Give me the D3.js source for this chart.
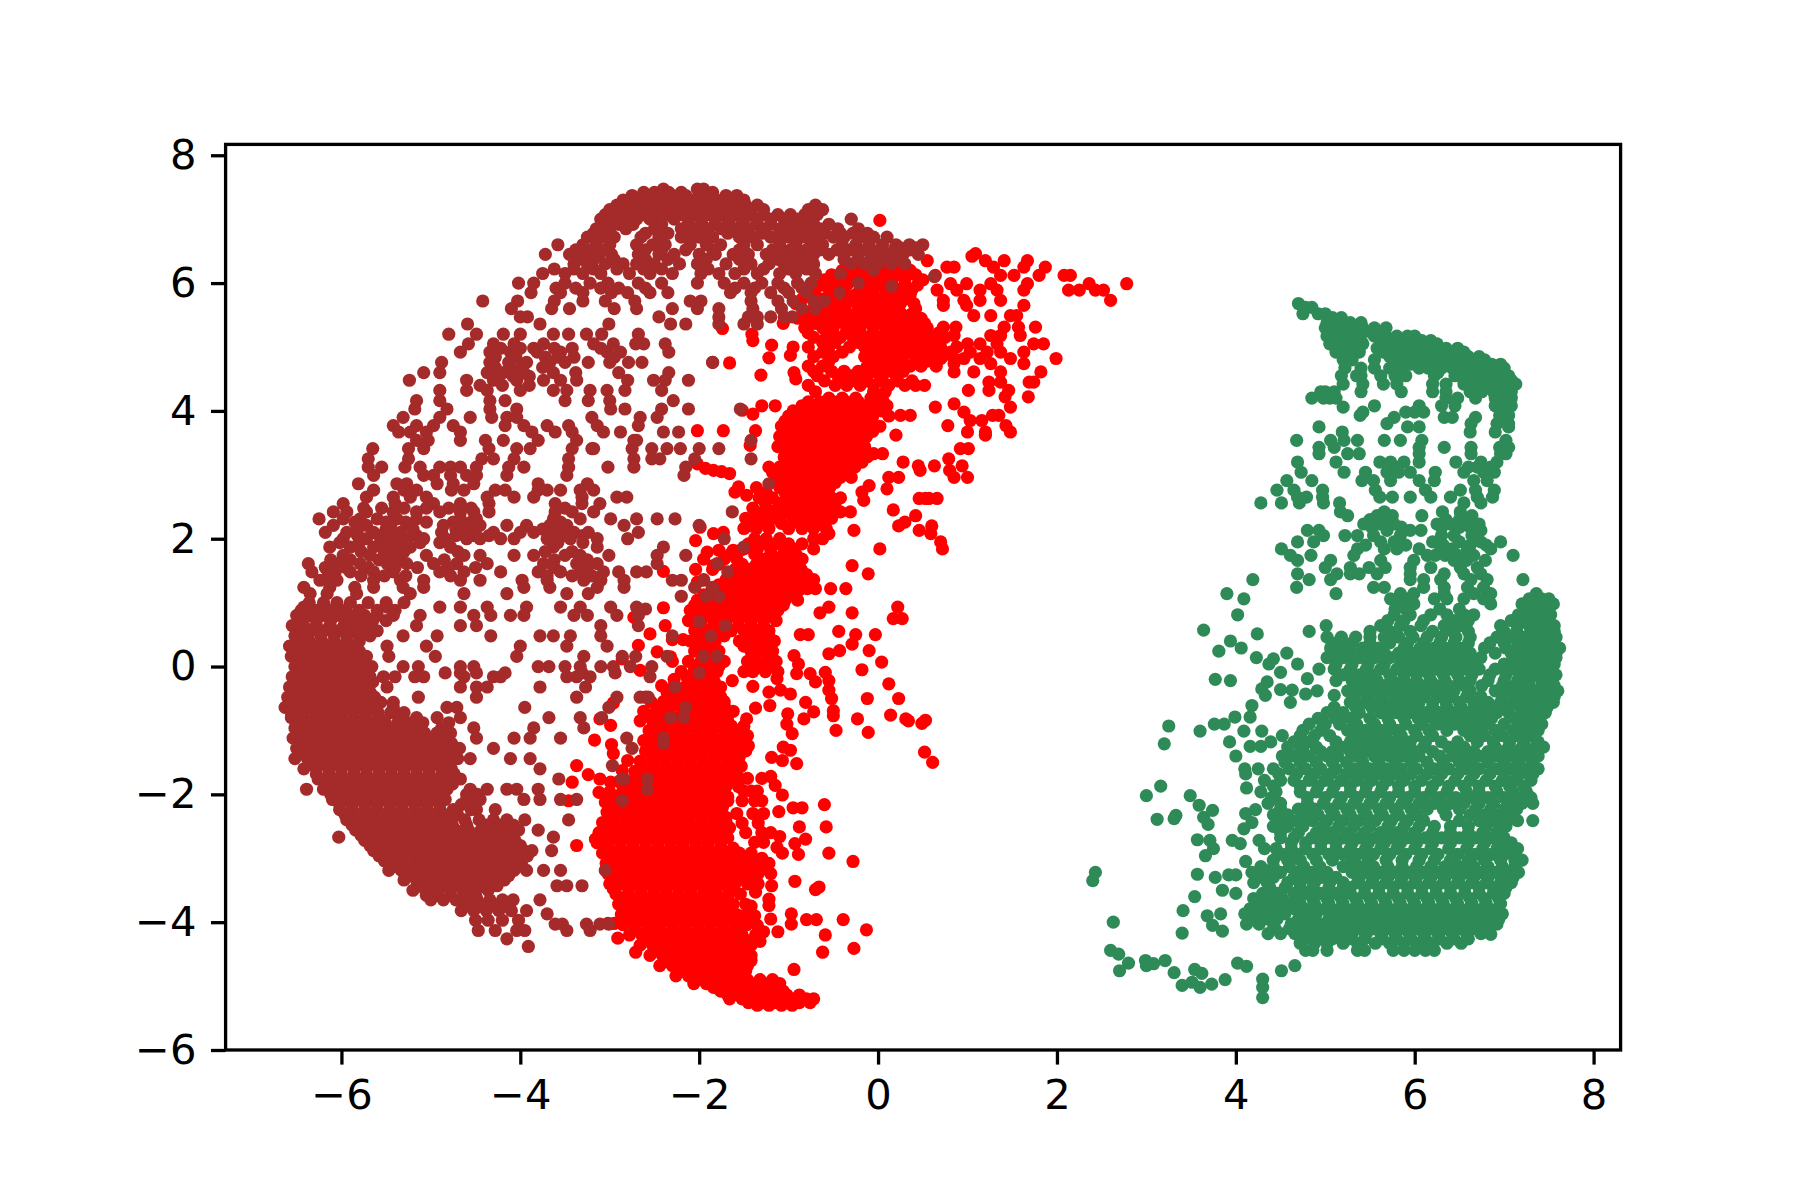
<!DOCTYPE html>
<html><head><meta charset="utf-8">
<script src="https://cdnjs.cloudflare.com/ajax/libs/d3/7.8.5/d3.min.js"></script>
<style>html,body{margin:0;padding:0;background:#fff}svg{display:block}</style>
</head><body><svg id="c" width="1800" height="1200"></svg>
<script>
const xTicks=[-6,-4,-2,0,2,4,6,8];
const yTicks=[-6,-4,-2,0,2,4,6,8];
// every row: y value, then the x values read at that height
const redRows=[
[6.98,0.02],[6.46,1.09],[6.42,1.05],[6.35,0.55,1.2,1.41,1.67],[6.25,0.77,0.85,1.29,1.63,1.87],[6.12,2.08,2.15,1.37,1.52,1.8,0.64],
[5.99,2.78,2.36,0.81,0.99,1.26,1.67],[5.89,2.13,2.25,2.52,2.43,0.66,0.88,1.14,1.33,1.63],[5.73,2.6,0.73,0.96,1.14,1.37],[5.65,1.63,0.99,0.73],
[5.49,1.07,1.26,1.48,1.55],[5.31,0.73,0.87,1.41,1.57,1.76],[5.18,0.85,1.26,1.37,1.59],[5.05,1,1.14,1.33,1.74,1.85],[4.92,0.81,1.03,1.22,1.37,1.63],
[4.82,1.99,0.7,0.85,0.96,1.14,1.48],[4.74,1.63,1.26,0.85],[4.61,1.82,1.07,1.37,0.85],[4.45,1.69,1.74,1.24,1.37],[4.32,1.01,1.46,1.24],[4.22,1.42,1.68],
[4.11,0.85],[4.06,0.64,1.48],[3.98,0.96],[3.93,1.28,1.35,0.36,0.25],[3.85,1.03,1.16],[3.77,0.78,1.43],[3.67,1,1.2,1.48],[3.62,0.2,1.2],[3.41,1.01,0.92],
[3.33,0.05,-0.05],[3.25,0.79],[3.2,0.28],[3.14,0.45,0.63,0.94],[3.07,0.8,0.47],[2.96,0.85,1,0.23,0.12],[2.83,-0.1],[2.78,0.1],[2.73,-0.18],
[2.63,0.46,0.53,0.66,0.57],[2.6,-0.16],[2.45,0.17],[2.42,-0.42,-0.31],[2.36,0.42],[2.26,0.3],[2.2,0.23,0.6],[2.13,-0.27,0.46],[2.08,-0.55,0.59],[1.95,0.7],
[1.84,0.72,0.02],[1.58,-0.29],[1.45,-0.11],[1.22,-0.79,-0.7,-0.53,-0.36],
[5.29,-1.74],[5.2,-1.41],[5.1,-1.4],[4.75,-1.66],[5.37,-1.06],[5.03,-1.19],[4.83,-1.22],[4.56,-1.31],[4.87,-0.98],[4.6,-0.94],[4.5,-0.92],[4.01,-1.52],[3.95,-1.4],
[3.69,-2.02,-1.73,-1.37],[3.46,-1.43],[3.17,-2.02],[3.1,-1.93],[3.07,-1.84],[3.05,-1.75],[3.02,-1.66],[2.81,-1.56],[2.68,-1.47],[2.73,-1.6],
// upper blob
[6.2,-0.4,-0.25,-0.1,0.05,0.2,0.36],
[6.05,-0.6,-0.45,-0.3,-0.15,0,0.15,0.3,0.5],
[5.9,-0.7,-0.55,-0.42,-0.2,-0.05,0.08,0.22,0.38],
[5.75,-0.85,-0.62,-0.48,-0.3,-0.12,0.02,0.18,0.3],
[5.6,-0.72,-0.58,-0.4,-0.22,-0.08,0.08,0.22,0.42],
[5.45,-0.9,-0.78,-0.6,-0.45,-0.28,-0.12,0.02,0.18,0.32,0.48],
[5.3,-0.82,-0.62,-0.5,-0.3,-0.2,-0.05,0.1,0.28,0.45,0.55],
[5.15,-0.72,-0.58,-0.42,-0.28,-0.12,0,0.15,0.3,0.42,0.6,0.75],
[5.0,-0.95,-0.78,-0.55,-0.32,-0.15,-0.02,0.12,0.25,0.4,0.55,0.7,0.88],
[4.85,-0.72,-0.5,-0.15,0,0.12,0.28,0.44,0.58,0.72],
[4.7,-0.78,-0.62,-0.12,0.02,0.18,0.36,0.48,0.65],
[4.55,-0.68,-0.45,-0.3,-0.15,0.02,0.2],
[4.4,-0.78,-0.48,-0.35,-0.2,-0.05,0.12,0.3,0.42,0.52],
[4.3,-0.7,-0.05,0.08],
// middle blob
[4.2,-0.55,-0.4,-0.25,-0.08,0.04],
[4.08,-0.85,-0.72,-0.58,-0.44,-0.3,-0.16,-0.02,0.1,-1.15,-1.3],
[3.92,-1,-0.88,-0.74,-0.6,-0.46,-0.32,-0.18,-0.06,0.12],
[3.76,-1.08,-0.95,-0.81,-0.67,-0.53,-0.39,-0.25,-0.11,0.02],
[3.6,-1.1,-0.97,-0.83,-0.69,-0.55,-0.41,-0.27,-0.13],
[3.44,-1.12,-0.98,-0.84,-0.7,-0.56,-0.42,-0.28,-0.15],
[3.28,-1.05,-0.91,-0.77,-0.63,-0.49,-0.35,-0.21,-0.12],
[3.12,-1.22,-1.1,-0.96,-0.82,-0.68,-0.54,-0.4,-0.26],
[2.96,-1.12,-0.98,-0.84,-0.7,-0.56,-0.42,-0.3],
[2.8,-1.36,-1.1,-0.96,-0.82,-0.68,-0.54],
[2.64,-1.33,-1.18,-1.02,-0.8,-0.66,-0.52,-0.42],
[2.48,-1.4,-1.25,-1.12,-0.96,-0.82,-0.68,-0.54],
[2.32,-1.48,-1.32,-1.15,-0.95,-0.8,-0.66,-0.52],
[2.16,-1.5,-1.36,-1.22,-1,-0.85,-0.72,-0.58],
[2.0,-1.38,-1.25,-1.1,-0.72,-0.62],
[1.84,-1.5,-1.35,-1.2,-1.05,-0.95,-0.72],
[1.68,-1.95,-1.72,-1.58,-1.3,-1.12,-0.98,-0.85],
[1.52,-2.04,-1.85,-1.6,-1.44,-1.28,-1.14,-1,-0.86],
[1.36,-1.95,-1.7,-1.56,-1.42,-1.28,-1.14,-1,-0.86,-0.72],
[1.2,-1.86,-1.72,-1.58,-1.44,-1.3,-1.16,-1.02,-0.88],
[1.04,-2.02,-1.88,-1.74,-1.6,-1.46,-1.32,-1.18,-1.04,-0.9],
[0.88,-2.1,-1.96,-1.82,-1.68,-1.54,-1.4,-1.26,-1.12],
[0.72,-2.12,-1.98,-1.84,-1.7,-1.56,-1.42,-1.28,-1.14],
[0.56,-2.05,-1.92,-1.78,-1.64,-1.5,-1.36,-1.22],
[0.4,-2.1,-1.96,-1.82,-1.55,-1.42,-1.28,-1.16],
[0.24,-2.05,-1.92,-1.78,-1.42,-1.3,-1.18],
[0.08,-2.3,-2.12,-1.98,-1.84,-1.72,-1.46,-1.36,-1.24,-1.14],
[-0.08,-2.2,-2.06,-1.92,-1.8,-1.5,-1.4,-1.26,-1.12],
[-0.24,-2.1,-1.96,-1.83],
[-0.4,-2.36,-2.22,-2.08,-1.94,-1.8],
[-0.55,-2.54,-2.4,-2.26,-2.1,-1.96,-1.82,-1.72],
[-0.7,-2.62,-2.48,-2.34,-2.18,-2.02,-1.88,-1.74,-1.62],
[-0.85,-2.66,-2.52,-2.38,-2.24,-2.1,-1.96,-1.82,-1.68],
// lower crescent
[-1.0,-2.56,-2.42,-2.28,-2.14,-2,-1.86,-1.72,-1.58],
[-1.16,-2.62,-2.48,-2.34,-2.2,-2.06,-1.92,-1.78,-1.64,-1.52],
[-1.32,-2.6,-2.46,-2.32,-2.18,-2.04,-1.9,-1.76,-1.62,-1.48],
[-1.48,-2.66,-2.52,-2.38,-2.24,-2.1,-1.96,-1.82,-1.68,-1.56],
[-1.64,-2.72,-2.58,-2.44,-2.3,-2.16,-2.02,-1.88,-1.74,-1.6],
[-1.8,-2.9,-2.76,-2.62,-2.48,-2.34,-2.2,-2.06,-1.92,-1.78,-1.66],
[-1.96,-3,-2.86,-2.72,-2.58,-2.44,-2.3,-2.16,-2.02,-1.88,-1.74],
[-2.12,-3.05,-2.92,-2.78,-2.64,-2.5,-2.36,-2.22,-2.08,-1.94,-1.82],
[-2.28,-3.03,-2.89,-2.75,-2.61,-2.47,-2.33,-2.19,-2.05,-1.91,-1.77],
[-2.44,-3.08,-2.95,-2.81,-2.67,-2.53,-2.39,-2.25,-2.11,-1.97,-1.83,-1.7],
[-2.6,-3.12,-2.98,-2.84,-2.7,-2.56,-2.42,-2.28,-2.14,-2,-1.86,-1.72],
[-2.76,-3.14,-3.02,-2.88,-2.74,-2.6,-2.46,-2.32,-2.18,-2.04,-1.9,-1.76],
[-2.92,-3.08,-2.95,-2.81,-2.67,-2.53,-2.39,-2.25,-2.11,-1.97,-1.83,-1.69,-1.55,-1.42],
[-3.08,-3.04,-2.9,-2.76,-2.62,-2.48,-2.34,-2.2,-2.06,-1.92,-1.78,-1.64,-1.5,-1.36,-1.22],
[-3.24,-3.02,-2.88,-2.74,-2.6,-2.46,-2.32,-2.18,-2.04,-1.9,-1.76,-1.62,-1.48,-1.34,-1.2],
[-3.4,-3,-2.86,-2.72,-2.58,-2.44,-2.3,-2.16,-2.02,-1.88,-1.74,-1.6,-1.46,-1.34],
[-3.56,-2.93,-2.79,-2.65,-2.51,-2.37,-2.23,-2.09,-1.95,-1.81,-1.67,-1.54],
[-3.72,-2.9,-2.76,-2.62,-2.48,-2.34,-2.2,-2.06,-1.92,-1.78,-1.62,-1.48],
[-3.88,-2.87,-2.73,-2.59,-2.45,-2.31,-2.17,-2.03,-1.89,-1.75,-1.58,-1.45],
[-4.04,-2.85,-2.71,-2.57,-2.43,-2.29,-2.15,-2.01,-1.87,-1.73,-1.59,-1.47],
[-4.2,-2.78,-2.64,-2.5,-2.36,-2.22,-2.08,-1.94,-1.8,-1.66,-1.52],
[-4.36,-2.66,-2.52,-2.38,-2.24,-2.1,-1.96,-1.82,-1.68,-1.54,-1.42],
[-4.52,-2.55,-2.41,-2.27,-2.13,-1.99,-1.85,-1.71,-1.57,-1.42],
[-4.68,-2.44,-2.3,-2.16,-2.02,-1.88,-1.74,-1.6,-1.46],
[-4.84,-2.26,-2.12,-1.98,-1.84,-1.7,-1.56],
[-4.96,-2.06,-1.92,-1.78,-1.64,-1.5,-1.36,-1.22,-1.1],
[-5.08,-1.76,-1.62,-1.48,-1.34,-1.2,-1.06],
[-5.2,-1.66,-1.52,-1.38,-1.24,-1.1,-0.94,-0.8,-0.72],
[-5.3,-1.35,-1.22,-1.08,-0.96],
// right of the crescent
[0.93,0.22,-0.55],[0.75,0.17,0.27],[0.84,-0.29,-0.65],[0.55,-0.44],[0.5,-0.03,-0.87,-0.78,-0.25],[0.35,-0.29],[0.25,-0.1,-0.43],[0.2,-0.55],[0.17,-0.94],
[0.07,0.04],[0.04,-0.89],[-0.05,-0.18],[-0.11,-0.91,-0.76],[-0.24,-0.7],[-0.09,-0.59],[-0.22,-0.55],[-0.27,0.12],[-0.37,-0.55],[-0.5,-0.52,-0.12,0.23],
[-0.69,-0.5],[-0.77,-0.5],[-0.76,0.14],[-0.82,-0.23,0.31,-0.83,-1.47],[-0.85,0.34],[-0.89,0.49],[-0.84,0.53],[-1,-0.47],[-1.03,-0.11],[-1.34,0.52],[-1.5,0.61],
[-0.56,-0.81],[-0.71,-0.72],[-0.74,-1.01],[-0.9,-1.02],[-1.05,-0.96],[-0.65,-1.37],[-0.61,-1.21],[-0.4,-1.22],[-0.31,-1.4],[-0.22,-1.63],[-0.19,-1.13],[-0.43,-0.98],[-0.37,-1.09],
[-1.26,-1.06],[-1.42,-1.19],[-1.47,-1.07],[-1.31,-0.98],[-1.52,-0.91],[-1.72,-1.2],[-1.86,-1.15],[-2.01,-1.07],[-2.16,-0.6],[-2.21,-0.95,-0.85],[-2.27,-1.11],
[-2.51,-0.58,-0.88],[-2.7,-0.81],[-2.77,-0.93],[-2.94,-0.89],[-2.66,-1.1],[-2.83,-1.13],[-2.92,-1.07,-0.55],[-3.05,-0.28],[-3.36,-0.93],[-3.49,-0.7],[-3.45,-0.66],
[-3.43,-1.19],[-3.53,-1.37],[-3.64,-1.22],[-3.74,-1.22],[-3.95,-1.2],[-3.87,-0.97],[-4.03,-0.97],[-3.96,-0.8,-0.69,-0.39],[-4.12,-0.13],[-4.2,-0.59,-1.37],[-4.15,-1.12,-1.28],
[-4.47,-0.62],[-4.41,-0.27],[-4.74,-0.94],
[-1.75,-1.46,-1.3],[-1.95,-1.5,-1.35,-1.42],[-2.1,-1.68,-1.52,-1.38,-1.3],[-2.3,-1.58,-1.4,-1.28],[-2.45,-1.52,-1.34],[-2.6,-1.48,-1.3,-1.2],[-2.75,-1.38,-1.28],
[-3.75,-1.42],[-3.9,-1.5,-1.38],[-4.05,-1.35],[-4.3,-1.32],
[-0.82,-3.11],[-0.92,-2.99],[-0.57,-2.96],[-1.15,-3.17],[-1.22,-2.98],[-1.36,-2.96],[-1.55,-3.37],[-1.69,-3.24],[-1.76,-3.11],[-1.81,-3.42,-2.99],[-2.1,-3.46],[-1.97,-3.12],
[0.12,-2.86],[-1.47,-2.8],[-1.63,-2.86],[-2.8,-3.37],[-2.7,-3.16],[-4.25,-2.91],[-4.47,-2.71],[-4.02,-3.02,-2.95],
[0.92,-2.4],[0.64,-2.38],[0.51,-2.55],[0.33,-2.68],[0.23,-2.47],[-0.06,-2.66],[0.77,-2.73],[0.42,-2.3,-2.18],[0.15,-2.32],
[2.18,-1.99],[1.97,-2.04],[1.79,-1.91],[1.49,-2.4],[2.08,-1.84],[2.1,-1.73],[1.82,-1.54,-1.62,-1.78],[1.58,-1.84],[1.32,-2.02],[2.2,-1.42],[2.35,-1.35],
[-0.3,-2.42,-2.28],[-0.48,-2.6],[-0.2,-2.28],
// thickening of the solid red parts
[6.13,-0.52,-0.36,-0.2,-0.06,0.1,0.24,0.42],[5.97,-0.64,-0.5,-0.35,-0.1,0.03,0.16,0.3,0.44],[5.82,-0.78,-0.52,-0.36,-0.25,-0.08,0.1,0.24,0.36],
[5.68,-0.92,-0.68,-0.52,-0.35,-0.17,-0.02,0.12,0.25,0.4],[5.52,-0.84,-0.66,-0.5,-0.34,-0.17,-0.04,0.12,0.26,0.38],[5.37,-0.7,-0.55,-0.38,-0.25,-0.08,0.06,0.22,0.38,0.52],
[5.22,-0.78,-0.52,-0.36,-0.2,-0.06,0.08,0.22,0.36,0.5,0.68],[5.07,-0.62,-0.48,-0.22,-0.08,0.06,0.18,0.34,0.5,0.64],[4.92,-0.62,-0.4,-0.08,0.06,0.2,0.36,0.5,0.65],
[4.78,-0.55,-0.05,0.1,0.25,0.42,0.55],[4.62,-0.72,-0.52,-0.38,-0.22,-0.05,0.1,0.28],[4.47,-0.6,-0.4,-0.25,-0.12,0.05,0.22,0.38],
[4.14,-0.78,-0.65,-0.5,-0.36,-0.22,-0.08,0.06],[4,-0.95,-0.8,-0.66,-0.52,-0.38,-0.24,-0.1,0.04],[3.84,-1.04,-0.92,-0.78,-0.64,-0.5,-0.36,-0.22,-0.08],
[3.68,-1.04,-0.9,-0.76,-0.62,-0.48,-0.34,-0.2,-0.06],[3.52,-1.06,-0.92,-0.78,-0.64,-0.5,-0.36,-0.22],[3.36,-1.02,-0.88,-0.74,-0.6,-0.46,-0.32,-0.18],
[3.2,-1,-0.86,-0.72,-0.58,-0.44,-0.3,-0.18],[3.04,-1.18,-1.04,-0.9,-0.76,-0.62,-0.48,-0.36],[2.88,-1.04,-0.9,-0.76,-0.62,-0.48],[2.72,-1.25,-1.04,-0.9,-0.74,-0.6],
[2.56,-1.26,-1.08,-0.9,-0.74,-0.6,-0.48],[2.4,-1.33,-1.2,-1.04,-0.88,-0.74,-0.6],[2.24,-1.42,-1.26,-1.08,-0.88,-0.74,-0.6],[1.92,-1.45,-1.3,-1.15,-1,-0.85],
[1.76,-1.65,-1.38,-1.2,-1.06,-0.92],[1.6,-1.78,-1.52,-1.36,-1.2,-1.06,-0.92],[1.44,-1.66,-1.5,-1.36,-1.22,-1.08,-0.94,-0.8],[1.28,-1.78,-1.64,-1.5,-1.36,-1.22,-1.08,-0.94,-0.82],
[1.12,-1.95,-1.8,-1.66,-1.52,-1.38,-1.24,-1.1,-0.96],[0.96,-2.05,-1.9,-1.76,-1.62,-1.48,-1.34,-1.2,-1.06],[0.8,-2.04,-1.9,-1.76,-1.62,-1.48,-1.34,-1.2],[0.64,-1.98,-1.84,-1.7,-1.56,-1.42,-1.28],
[0.48,-2.02,-1.88,-1.72,-1.46,-1.34,-1.22],[0.32,-1.98,-1.86,-1.5,-1.36,-1.24],[0,-2.05,-1.9,-1.78,-1.42,-1.3,-1.18],[-0.16,-2.14,-2,-1.86],[-0.32,-2.16,-2.02,-1.88,-1.76],
[-0.47,-2.3,-2.16,-2.02,-1.88,-1.76],[-0.62,-2.44,-2.3,-2.14,-2,-1.86,-1.72],[-0.78,-2.56,-2.42,-2.3,-2.14,-2,-1.86,-1.72],[-0.93,-2.48,-2.34,-2.2,-2.06,-1.92,-1.78,-1.64,-1.5],
[-1.08,-2.55,-2.41,-2.27,-2.13,-1.99,-1.85,-1.71,-1.57,-1.46],[-1.24,-2.53,-2.39,-2.25,-2.11,-1.97,-1.83,-1.69,-1.55,-1.45],[-1.4,-2.53,-2.39,-2.25,-2.11,-1.97,-1.83,-1.69,-1.55],
[-1.56,-2.65,-2.51,-2.37,-2.23,-2.09,-1.95,-1.81,-1.67,-1.53],[-1.72,-2.69,-2.55,-2.41,-2.27,-2.13,-1.99,-1.85,-1.71,-1.57],[-1.88,-2.82,-2.68,-2.54,-2.4,-2.26,-2.12,-1.98,-1.84,-1.7,-1.56],
[-2.04,-2.93,-2.79,-2.65,-2.51,-2.37,-2.23,-2.09,-1.95,-1.81,-1.68],[-2.2,-2.98,-2.84,-2.7,-2.56,-2.42,-2.28,-2.14,-2,-1.86,-1.74],[-2.36,-2.96,-2.82,-2.68,-2.54,-2.4,-2.26,-2.12,-1.98,-1.84,-1.7],
[-2.52,-3.04,-2.9,-2.76,-2.62,-2.48,-2.34,-2.2,-2.06,-1.92,-1.78,-1.66],[-2.68,-3.05,-2.91,-2.77,-2.63,-2.49,-2.35,-2.21,-2.07,-1.93,-1.79,-1.68],[-2.84,-3.02,-2.88,-2.74,-2.6,-2.46,-2.32,-2.18,-2.04,-1.9,-1.76,-1.62],
[-3,-3,-2.86,-2.72,-2.58,-2.44,-2.3,-2.16,-2.02,-1.88,-1.74,-1.58,-1.44,-1.3],[-3.16,-2.96,-2.82,-2.68,-2.54,-2.4,-2.26,-2.12,-1.98,-1.84,-1.7,-1.55,-1.42,-1.28],[-3.32,-2.94,-2.8,-2.66,-2.52,-2.38,-2.24,-2.1,-1.96,-1.82,-1.68,-1.54,-1.4],
[-3.48,-2.96,-2.79,-2.65,-2.51,-2.37,-2.23,-2.09,-1.95,-1.81,-1.67],[-3.64,-2.86,-2.72,-2.58,-2.44,-2.3,-2.16,-2.02,-1.88,-1.74],[-3.8,-2.83,-2.69,-2.55,-2.41,-2.27,-2.13,-1.99,-1.85,-1.7],
[-3.96,-2.8,-2.66,-2.52,-2.38,-2.24,-2.1,-1.96,-1.82,-1.66,-1.52],[-4.12,-2.72,-2.58,-2.44,-2.3,-2.16,-2.02,-1.88,-1.74,-1.6],[-4.28,-2.6,-2.46,-2.32,-2.18,-2.04,-1.9,-1.76,-1.62,-1.48],
[-4.44,-2.48,-2.34,-2.2,-2.06,-1.92,-1.78,-1.64,-1.5],[-4.6,-2.37,-2.23,-2.09,-1.95,-1.81,-1.67,-1.53,-1.42],[-4.76,-2.18,-2.04,-1.9,-1.76,-1.62,-1.48],[-4.9,-2.02,-1.88,-1.74,-1.6,-1.46,-1.32,-1.18],
[-5.02,-1.84,-1.7,-1.56,-1.42,-1.28,-1.14],[-5.14,-1.68,-1.56,-1.44,-1.3,-1.16,-1.02,-0.88],[-5.26,-1.45,-1.3,-1.16,-1.02,-0.88,-0.76]
];
const brownRows=[
// top band
[7.47,-2.4,-2.02,-1.95],[7.42,-2.62,-2.5,-2.34,-2.2,-1.85],
[7.37,-2.75,-2.6,-2.45,-2.3,-2.15,-2,-1.85,-1.7,-1.58],
[7.3,-2.85,-2.7,-2.55,-2.4,-2.25,-2.1,-1.95,-1.8,-1.65,-1.5],
[7.22,-2.92,-2.8,-2.66,-2.52,-2.38,-2.22,-2.08,-1.92,-1.78,-1.62,-1.48,-1.35,-0.7],
[7.15,-3,-2.88,-2.74,-2.6,-2.45,-2.3,-2.15,-2,-1.85,-1.7,-1.55,-1.42,-1.28,-0.78,-0.62],
[7.07,-3.05,-2.92,-2.78,-2.62,-2.48,-2.35,-2.2,-2.05,-1.9,-1.74,-1.58,-1.42,-1.28,-1.12,-0.98,-0.82,-0.68],
[7.0,-3.1,-2.98,-2.85,-2.7,-2.55,-2.28,-2.12,-1.98,-1.82,-1.66,-1.5,-1.35,-1.2,-1.05,-0.9,-0.75,-0.3],
[6.92,-3.08,-2.9,-2.74,-2.42,-2.12,-1.97,-1.82,-1.68,-1.52,-1.36,-1.2,-1.02,-0.88,-0.72,-0.55],
[6.85,-3.15,-3,-2.82,-2.5,-2.2,-2.05,-1.9,-1.75,-1.6,-1.45,-1.28,-1.1,-0.95,-0.8,-0.65,-0.45,-0.22],
[6.78,-3.18,-3.02,-2.6,-2.35,-2.1,-1.92,-1.68,-1.48,-1.3,-1.1,-0.92,-0.78,-0.6,-0.42,-0.28,-0.12],
[6.72,-3.25,-3.1,-2.95,-2.65,-2.45,-2.2,-2,-1.85,-1.55,-1.4,-1.2,-1,-0.85,-0.7,-0.5,-0.38,-0.2,-0.05,0.1],
[6.6,-3.58,-3.3,-3.15,-3,-2.7,-2.52,-2.38,-2.1,-1.92,-1.76,-1.5,-1.35,-1.1,-0.92,-0.75,-0.62,-0.4,-0.25,-0.1,0.05,0.2,0.35,0.5],
[6.52,-3.38,-3.2,-3.05,-2.6,-2.42,-2.15,-1.85,-1.55,-1.18,-0.98,-0.8,-0.65,-0.46,-0.3,-0.14,0.02,0.18,0.36],
[6.45,-3.72,-3.45,-3.28,-3.12,-2.98,-2.68,-2.45,-2.28,-2,-1.82,-1.62,-1.45,-1.25,-1.05,-0.88,-0.72,-0.55,-0.38,-0.22,-0.05,0.12,0.28,0.45],
[6.37,-3.35,-3.18,-2.95,-2.6,-2.35,-1.92,-1.55,-1.12,-0.98,-0.8,-0.38,-0.22,-0.08,0.08,0.22],
[6.3,-3.4,-3.25,-3.05,-2.85,-2.7,-2.5,-2.22,-2.02,-1.7,-1.42,-1.22,-1.05,-0.9,-0.72,-0.3,-0.15,0,0.15,0.3],
[6.22,-3.62,-3.4,-3.18,-2.92,-2.62,-2.42,-1.9,-1.5,-1.28,-1,-0.8],
[6.15,-3.75,-3.5,-3.3,-3.1,-2.78,-2.55,-2.3,-1.98,-1.78,-1.6,-1.35,-1.1,-0.92,-0.7,-0.42],
[6,-4.02,-3.85,-3.5,-3.22,-3.02,-2.68,-2.42,-2.02,-1.72,-1.5,-1.3,-1.12,-0.9,-0.75,-0.22],
[5.92,-3.6,-3.38,-3.1,-2.9,-2.6,-1.6,-1.38,-1.05,-0.85],
[5.85,-3.88,-3.55,-3.3,-2.98,-2.8,-2.55,-2.35,-1.65,-1.42,-1.2,-1,-0.8,-0.43],
[5.72,-4.42,-4.03,-3.62,-3.3,-3.05,-2.72,-2.1,-1.98,-1.42,-1.12,-0.95,-0.6],
[5.6,-4.1,-3.65,-3.45,-2.95,-2.7,-2.3,-2.02,-1.78,-1.4,-1.08,-0.85,-0.7],
[5.47,-4,-3.92,-2.45,-1.78,-1.45,-1.35,-1.2,-1.05,-0.96],
[5.36,-4.59,-3.78,-3.01,-2.32,-2.15,-1.78,-1.5,-1.35],
[5.2,-4.8,-4.49,-4.19,-4,-3.63,-3.46,-3.26,-3.09,-2.68],
[5.05,-4.58,-4.3,-4.07,-3.74,-3.18,-2.96,-2.71,-2.62,-2.38],
[4.98,-4.22,-4,-3.85,-3.62,-3.42,-3.1],[4.92,-4.67,-4.34,-4.11,-3.81,-3.55,-3.03,-2.88,-2.34],[4.84,-4.28,-4.05,-3.72,-3.58,-3.4,-2.95],
[4.76,-4.88,-4.34,-4.13,-3.93,-3.67,-3.5,-3.24,-3,-2.79,-2.64,-1.85,-1.85],[4.68,-4.28,-4.1,-3.98,-3.75],
[4.6,-5.08,-4.9,-4.37,-4.19,-3.96,-3.63,-3.38,-2.9,-2.34],[4.54,-4.24,-4.08,-3.9],
[4.48,-5.24,-4.6,-4.3,-4.04,-3.74,-3.55,-3.37,-2.8,-2.51,-2.38,-2.12],[4.4,-4.2,-4.45,-3.9],
[4.32,-4.9,-4.6,-4.37,-4,-3.63,-3.48,-3.22,-3.03,-2.83,-2.42],
[4.16,-5.16,-4.9,-4.34,-4.17,-3.5,-3.24,-3,-2.29],
[4.03,-5.18,-4.82,-4.34,-4.04,-2.99,-2.83,-2.42,-2.12,-1.54],
[3.9,-5.31,-4.9,-4.56,-4.32,-4.15,-4.04,-3.2,-2.66,-2.47],
[3.77,-5.42,-5.16,-4.97,-4.75,-4.17,-3.96,-3.7,-3.46,-3.14,-2.68],
[3.67,-5.36,-5.23,-5.05,-4.67,-3.87,-3.61,-3.42,-3.07,-2.88,-2.4,-2.23],
[3.54,-5.16,-5.03,-4.67,-4.39,-4.19,-3.8,-3.37,-2.73,-2.7,-1.42],
[3.41,-5.65,-5.25,-5.08,-4.35,-4.04,-3.89,-3.42,-3.2,-3.18,-2.75,-2.53,-2.36,-2.21,-2,-1.78],
[3.25,-5.7,-5.25,-4.43,-4.3,-4.07,-3.46,-2.73,-2.53,-2.44,-2.05,-1.42],
[3.12,-5.55,-5.7,-5.29,-5.12,-4.9,-4.78,-4.67,-4.49,-4.13,-3.96,-3.46,-3.02,-2.73,-2.15],
[2.99,-5.64,-5.08,-4.97,-4.78,-4.6,-4.49,-4.15,-3.48,-2.17],[2.86,-5.81,-5.38,-5.27,-4.93,-4.75,-4.52,-3.8,-3.25,-1.22],
[2.76,-5.64,-5.3,-5.16,-4.77,-4.63,-4.28,-4.17,-3.8,-3.7,-3.55,-3.33,-3.18],
[2.65,-5.72,-5.42,-5.23,-5.05,-4.37,-4.07,-3.85,-3.31,-2.92,-2.81],
[2.55,-5.98,-5.4,-4.97,-4.67,-4.35,-3.61,-3.31,-3.11],
[2.48,-5.75,-5.55,-5.3,-5.05,-4.8,-4.55,-3.5],
[2.42,-6.09,-5.94,-5.72,-5.42,-5.16,-4.9,-4.67,-4.52,-4.35,-3.61,-3.42,-3.18,-1.63],
[2.31,-6.25,-5.98,-5.79,-5.6,-5.38,-5.16,-4.67,-4.49,-3.63,-3.33,-2.99,-2.7,-2.47,-2.27],
[2.26,-5.85,-5.5,-5.28,-5.05,-4.75,-4.55,-3.55],
[2.21,-6.09,-5.72,-5.45,-5.23,-4.86,-4.63,-4.45,-4.15,-3.93,-3.67,-3.48,-2.84,-2],
[2.15,-5.82,-5.5,-5.2,-4.72,-4.5,-3.75,-3.52],
[2.1,-6.18,-5.94,-5.64,-5.34,-4.88,-4.6,-4.3,-4,-3.85,-3.63,-3.4,-3.24,-2.68],
[2.05,-5.82,-5.58,-5.4,-5.16,-4.72,-4.52,-4.35,-3.52,-3.3],
[2,-5.98,-5.72,-5.49,-5.27,-5.08,-4.84,-4.6,-4.45,-4.22,-4.07,-3.7,-3.44,-3.14,-2.8,-1.72],
[1.94,-6.02,-5.8,-5.55,-5.32,-5.12,-4.9,-3.58,-3.3],
[1.87,-6.13,-5.9,-5.64,-5.42,-5.23,-4.78,-3.63,-3.14,-2.4,-1.5],
[1.8,-5.78,-5.52,-5.3,-4.7,-3.72,-3.42],
[1.74,-5.98,-5.68,-5.42,-5.05,-4.63,-4.45,-4.07,-3.85,-3.5,-3.33,-3.01,-2.47,-2.15],
[1.67,-6.12,-5.9,-5.58,-5.35,-4.85,-3.62,-3.25],
[1.61,-6.37,-6.05,-5.79,-5.49,-5.27,-4.97,-4.71,-4.37,-3.74,-3.37,-3.14,-2.47,-1.8],
[1.55,-6.18,-5.95,-5.7,-5.4,-5.15,-4.8,-4.5,-3.62,-3.25],
[1.48,-6.33,-6.07,-5.9,-5.64,-5.42,-4.9,-4.63,-4.22,-3.8,-3.55,-3.33,-3.07,-2.9,-2.7,-2.59,-1.68],
[1.42,-6.15,-5.78,-5.52,-5.28,-4.78,-3.7,-3.42,-3.2],
[1.35,-6.24,-6.05,-5.64,-5.34,-5.08,-4.67,-4.45,-3.98,-3.7,-3.29,-3.1,-2.84,-2.3,-2.2,-1.95],
[1.24,-6.42,-6.13,-5.85,-5.64,-5.31,-5.08,-3.96,-3.67,-3.14,-2.84,-2.05,-1.85],
[1.14,-6.35,-6.16,-5.83,-5.23,-4.63,-4.15,-3.48,-3.24],
// dense left crescent
[1.0,-6.36,-6.2,-6.05,-5.9,-5.7,-5.5,-5.3],
[0.93,-6.42,-5.49,-4.9,-4.67,-4.37,-3.93,-3.55,-3.33,-2.99,-2.7],
[0.88,-6.45,-6.28,-6.12,-5.96,-5.8,-5.6,-5.4],
[0.8,-6.5,-6.36,-6.2,-6.05,-5.9,-5.74,-5.6,-5.42,-5.12,-4.52,-4.33,-4.11,-3.96,-3.4,-3.25,-2.92,-2.68],
[0.72,-6.45,-6.28,-6.12,-5.96,-5.8,-5.65,-5.5],
[0.64,-6.55,-6.42,-6.28,-6.13,-5.97,-5.84,-5.68,-5.16,-4.67,-4.49,-3.1,-2.68,-1.71],
[0.56,-6.48,-6.34,-6.2,-6.05,-5.9,-5.75,-5.6],
[0.48,-6.52,-6.38,-6.23,-6.08,-5.94,-5.8,-5.68,-5.31,-4.93,-4.33,-3.78,-3.63,-3.44,-3.1,-2.3,-1.87],
[0.4,-6.5,-6.36,-6.22,-6.08,-5.94,-5.8],
[0.32,-6.58,-6.45,-6.3,-6.16,-6.02,-5.87,-5.49,-5.05,-4,-3.48,-3.03],
[0.24,-6.5,-6.36,-6.22,-6.08,-5.94,-5.8],
[0.16,-6.56,-6.42,-6.28,-6.14,-6,-5.86,-5.72,-5.47,-4.95,-4.04,-3.29,-2.86,-2.71,-2.36,-1.95,-1.8],
[0.08,-6.48,-6.34,-6.2,-6.06,-5.92,-5.78],
[0,-6.52,-6.39,-6.25,-6.11,-5.97,-5.83,-5.66,-5.31,-5.14,-4.67,-4.52,-3.8,-3.68,-3.5,-3.33,-3.1,-2.96,-2.77,-2.53],
[-0.08,-6.48,-6.34,-6.2,-6.06,-5.92,-5.78],
[-0.1,-5.72,-4.84,-4.67,-4.49,-4.17,-3.31,-2.94,-2],
[-0.16,-6.55,-6.42,-6.28,-6.14,-6,-5.86,-5.68,-5.53,-5.4,-5.18,-5.08,-4.63,-4.3,-4.22,-3.48,-3.37,-3.22,-2.55],
[-0.24,-6.5,-6.36,-6.22,-6.08,-5.94,-5.8,-5.65],
[-0.32,-6.58,-6.45,-6.31,-6.17,-6.03,-5.89,-5.75,-5.49,-4.67,-4.49,-4.37,-3.78,-3.27,-2.27],
[-0.4,-6.52,-6.38,-6.24,-6.1,-5.96,-5.82,-5.68],
[-0.48,-6.6,-6.47,-6.33,-6.19,-6.05,-5.91,-5.77,-5.63,-5.14,-4.49,-3.37,-2.92,-2.66,-2.57],
[-0.56,-6.54,-6.4,-6.26,-6.12,-5.98,-5.84,-5.7,-5.56,-5.42],
[-0.64,-6.63,-6.5,-6.36,-6.22,-6.08,-5.94,-5.8,-5.66,-5.42,-4.71,-4.82,-3.95,-3.01,-2.15],
[-0.72,-6.56,-6.43,-6.29,-6.15,-6.01,-5.87,-5.73,-5.59,-5.45,-5.3],
[-0.8,-6.56,-6.42,-6.28,-6.14,-6,-5.86,-5.72,-5.58,-5.34,-5.16,-4.93,-4.67,-3.68,-3.33,-3.09,-2.32,-2.17],
[-0.88,-6.49,-6.35,-6.21,-6.07,-5.93,-5.79,-5.65,-5.51,-5.37,-5.23,-5.09,-4.8],
[-0.96,-6.52,-6.38,-6.24,-6.1,-5.96,-5.82,-5.68,-5.54,-5.4,-5.26,-5.12,-4.88,-4.52,-3.85,-3.29],
[-1.04,-6.47,-6.33,-6.19,-6.05,-5.91,-5.77,-5.63,-5.49,-5.35,-5.21,-5.07,-4.93,-4.78],
[-1.12,-6.54,-6.4,-6.26,-6.12,-5.98,-5.84,-5.7,-5.56,-5.42,-5.28,-5.14,-5,-4.82,-4.07,-3.89,-3.55,-2.81,-2.4,-4.49],
[-1.2,-6.45,-6.31,-6.17,-6.03,-5.89,-5.75,-5.61,-5.47,-5.33,-5.19,-5.05,-4.91,-4.77],
[-1.28,-6.5,-6.36,-6.22,-6.08,-5.94,-5.8,-5.66,-5.52,-5.38,-5.24,-5.1,-4.96,-4.82,-4.68,-4.3,-2.75],
[-1.36,-6.45,-6.31,-6.17,-6.03,-5.89,-5.75,-5.61,-5.47,-5.33,-5.19,-5.05,-4.91,-4.77],
[-1.44,-6.52,-6.38,-6.24,-6.1,-5.96,-5.82,-5.68,-5.54,-5.4,-5.26,-5.12,-4.98,-4.84,-4.7,-4.56,-4.11,-3.89],
[-1.52,-6.35,-6.21,-6.07,-5.93,-5.79,-5.65,-5.51,-5.37,-5.23,-5.09,-4.95,-4.82],
[-1.6,-6.42,-6.28,-6.14,-6,-5.86,-5.72,-5.58,-5.44,-5.3,-5.16,-5.02,-4.88,-4.77,-3.78],
[-1.68,-6.28,-6.14,-6,-5.86,-5.72,-5.58,-5.44,-5.3,-5.16,-5.02,-4.88,-4.74],
[-1.76,-6.26,-6.12,-5.98,-5.84,-5.7,-5.56,-5.42,-5.28,-5.14,-5,-4.86,-4.67,-3.57,-2.86,-2.84],
[-1.84,-6.16,-6.02,-5.88,-5.74,-5.6,-5.46,-5.32,-5.18,-5.04,-4.9,-4.76],
[-1.92,-6.39,-6.2,-6.06,-5.92,-5.78,-5.64,-5.5,-5.36,-5.22,-5.08,-4.94,-4.82,-4.56,-4.37,-4.15,-4.04,-3.8,-2.58],
[-2,-6.12,-5.98,-5.84,-5.7,-5.56,-5.42,-5.28,-5.14,-5,-4.86,-4.6,-4.48],
[-2.08,-6.1,-5.96,-5.82,-5.68,-5.54,-5.4,-5.26,-5.12,-4.98,-4.84,-4.6,-4.45,-3.96,-3.78,-3.55,-3.37],
[-2.16,-6.02,-5.88,-5.74,-5.6,-5.46,-5.32,-5.18,-5.04,-4.9,-4.66,-4.5],
[-2.24,-6.02,-5.88,-5.74,-5.6,-5.46,-5.32,-5.18,-5.04,-4.9,-4.75,-4.55,-4.49,-4.28],
[-2.32,-5.96,-5.82,-5.68,-5.54,-5.4,-5.26,-5.12,-4.98,-4.84,-4.7],
[-2.4,-5.94,-5.8,-5.66,-5.52,-5.38,-5.24,-5.1,-4.96,-4.82,-4.62,-4.46,-4.3,-4.15,-3.95,-3.46],
[-2.48,-5.88,-5.74,-5.6,-5.46,-5.32,-5.18,-5.04,-4.9,-4.76,-4.6,-4.38,-4.22,-4.08],
[-2.56,-5.84,-5.7,-5.56,-5.42,-5.28,-5.14,-5,-4.86,-4.72,-4.58,-4.44,-4.3,-4.16,-4.02,-3.8],
[-2.64,-5.78,-5.64,-5.5,-5.36,-5.22,-5.08,-4.94,-4.8,-4.66,-4.52,-4.38,-4.24,-4.1],
[-2.67,-6.03,-3.63],
[-2.72,-5.74,-5.6,-5.46,-5.32,-5.18,-5.04,-4.9,-4.76,-4.62,-4.48,-4.34,-4.2,-4.06],
[-2.8,-5.68,-5.54,-5.4,-5.26,-5.12,-4.98,-4.84,-4.7,-4.56,-4.42,-4.28,-4.14,-4],
[-2.88,-5.64,-5.5,-5.36,-5.22,-5.08,-4.94,-4.8,-4.66,-4.52,-4.38,-4.24,-4.1,-3.96,-3.87,-3.65],
[-2.96,-5.58,-5.44,-5.3,-5.16,-5.02,-4.88,-4.74,-4.6,-4.46,-4.32,-4.18,-4.04,-3.92],
[-3.04,-5.52,-5.38,-5.24,-5.1,-4.96,-4.82,-4.68,-4.54,-4.4,-4.26,-4.12,-3.98],
[-3.12,-5.4,-5.26,-5.12,-4.98,-4.84,-4.7,-4.56,-4.42,-4.28,-4.14,-4],
[-3.19,-5.47,-5.33,-5.19,-5.05,-4.91,-4.77,-4.63,-4.49,-4.35,-4.21,-4.07,-3.93,-3.74,-3.55,-3.05],
[-3.27,-5.25,-5.11,-4.97,-4.83,-4.69,-4.55,-4.41,-4.27,-4.13],
[-3.34,-5.3,-5.16,-5.02,-4.88,-4.74,-4.6,-4.46,-4.32,-4.18],
[-3.43,-5.1,-4.96,-4.82,-4.68,-4.54,-4.4,-4.26,-3.31,-3.59,-3.48],
[-3.5,-5.2,-5.06,-4.92,-4.78,-4.64,-4.5,-4.36],
[-3.58,-5.05,-4.92,-4.78,-4.62,-4.5],
[-3.65,-5,-4.86,-4.72,-4.62,-4.48,-4.34,-4.2,-4.08,-3.78],
[-3.74,-4.58,-4.42,-4.28,-4.14],
[-3.82,-4.66,-4.52,-4.38,-4.24,-4.1,-3.93],
[-3.87,-3.7],
[-3.97,-4.5,-4.36,-4.2,-4.02],
[-4.03,-3.61,-3.53,-3.26,-3.11,-3.01],
[-4.13,-4.47,-4.28,-4.04,-3.95,-3.48,-3.22],
[-4.26,-4.15],[-4.38,-3.91],
// over the red cloud
[6.55,0.25,0.42],[6.2,-0.05],[6.1,0.63],[5.95,0.15],[5.72,-0.72],
[1.1,-1.92,-1.78,-2.2],[0.9,-2.6],[0.7,-2],[-1.2,-2.4],[-1.55,-2.97],[-1.76,-2.86,-2.58],[-2.1,-2.86]
];
const greenRows=[
[5.68,4.7],[5.62,4.78,4.85],[5.52,4.75,4.92,5],[5.46,5.08,5.18],[5.38,5.02,5.15,5.28,5.4],
[5.3,5,5.08,5.2,5.32,5.42,5.55,5.68],[5.24,5.1,5.26,5.5,5.62],[5.17,5.02,5.12,5.25,5.38,5.55,5.68,5.8,5.92,6],[5.1,5.1,5.28,5.4,5.7,5.82,5.95,6.08,6.18],
[5.05,5.05,5.18,5.3,5.42,5.62,5.75,5.88,6,6.12,6.25],[4.98,5.18,5.3,5.58,5.7,5.85,5.98,6.1,6.22,6.35,6.48],[4.92,5.12,5.25,5.38,5.65,5.78,5.9,6.03,6.16,6.28,6.45,6.55],
[4.85,5.72,5.85,5.98,6.1,6.22,6.34,6.46,6.6,6.72],[4.8,5.2,5.3,5.55,5.78,5.9,6.02,6.15,6.27,6.4,6.52,6.65,6.78],[4.73,5.8,5.95,6.08,6.22,6.36,6.48,6.6,6.74,6.86,6.96],[4.67,5.22,5.4,5.55,5.72,5.85,6.05,6.15,6.3,6.42,6.55,6.68,6.8,6.92,7],
[4.6,6.26,6.5,6.62,6.76,6.88,7],[4.55,5.18,5.35,5.4,5.62,5.78,5.9,6.22,6.45,6.58,6.7,6.82,6.95,7.05],[4.48,6.6,6.74,6.86,6.98,7.08],[4.42,5.2,5.42,5.65,5.8,6.2,6.35,6.55,6.68,6.8,6.92,7.04,7.13],
[4.36,6.68,6.82,6.94,7.05],[4.3,4.95,5,5.1,5.4,5.85,6.2,6.35,6.62,6.75,6.88,7,7.08],[4.2,4.85,4.98,5.05,5.12,6.35,6.48,6.68,6.9,7,7.08],[4.08,5.55,6.05,6.3,6.45,6.9,7.02,7.08],
[4.06,5.2],[3.98,5.42,5.9,6,6.1],[3.93,5.39,6.95,7.05],[3.9,5.77,6.68,6.33,6.42],[3.8,5.69,6.92,6.63,7.05],[3.75,4.93,5.92,6.05,7.05],[3.67,6.62,5.19,6.9],
[3.54,4.68,5.06,5.21,5.36,5.66,5.84,6.08,7.02],[3.43,4.93,5.1,6.33,6.05,6.63,7.05,6.95],[3.33,4.93,5.25,5.38,6.05,6.63,6.96,7.02],
[3.2,4.69,5.12,5.61,5.73,5.88,6.05,6.46,6.74,6.92],[3.12,6.6,6.85,6.7,5.8],[3.04,4.73,5.21,5.45,5.69,5.82,5.95,6.23,6.55,6.77,6.89],
[2.91,4.57,4.85,5.41,5.54,5.73,6.05,6.22,6.66,6.81],[2.76,4.46,4.65,4.97,5.56,6.12,6.51,6.68,6.89],[2.65,4.79,4.69,4.97,5.61,5.75,5.95,6.18,6.4,6.7,6.87],
[2.56,4.28,4.51,4.71,4.98,5.16,6.55,6.74],[2.42,5.17,5.66,6.31,6.51],[2.36,5.25,6.08,5.58,5.75,6.64],[2.3,5.5,5.68,6.35,6.5,6.6],[2.23,5.43,5.6,5.77,6.25,6.4,6.72],
[2.18,5.52,5.85,6.3,6.5,6.62],[2.13,4.8,4.93,5.95,5.69,6.07,6.74],[2.05,4.98,5.22,5.36,5.54,5.84,6.44,6.64,6.3],[1.95,4.69,4.87,6.2,5.62,5.77,6.96,6.74,6.5],
[1.9,5.45,5.9,6.32,6.62,6.8],[1.84,4.51,5.36,5.66,5.8,6.05,6.29,6.85,6.59,6.42],[1.74,4.61,4.84,5.32,6.14,6.48,6.66,7.1,6.23,6.34],[1.66,5.06,4.69,5.62,5.99,6.44,6.79,6.58],
[1.55,5,5.28,5.49,5.67,5.95,6.18,6.51,6.7],[1.45,4.69,5.13,5.28,5.38,5.58,5.95,6.33,6.55,6.74],[1.36,4.19,4.82,5.06,5.95,6.1,6.29,6.63,6.81,7.21],
[1.24,4.68,5.54,5.66,6.1,6.33,6.59,6.77],[1.14,3.9,5.12,5.84,5.99,7.36,6.33,6.66,6.85],[1.06,4.09,5.73,5.92,6.22,6.36,6.55,6.77,7.28,7.42,7.5],
[0.98,5.84,5.99,7.2,7.45,6.85,7.32,7.55],[0.9,5.78,5.9,6.28,6.5,7.25,7.38,7.5],[0.81,4.02,5.77,5.95,6.18,6.36,6.55,6.66,7.16,7.33,7.52,7.42],[0.72,5.7,5.88,6.1,6.45,6.6,7.08,7.24,7.38,7.5],
[0.64,5.01,5.62,5.84,6.07,6.33,6.51,6.96,7.15,7.28,7.37,7.5,7.56],[0.57,3.64],[0.55,4.82,5.5,5.72,5.95,6.2,6.42,6.6,7,7.14,7.3,7.44,7.56],[0.51,4.24],
// wide lower body
[0.46,5.02,5.18,5.34,5.5,5.66,5.82,5.98,6.14,6.3,6.46,6.62,6.92,7.08,7.22,7.34,7.46,7.58],
[0.4,3.94],[0.37,5.12,5.3,5.5,5.72,5.92,6.1,6.28,6.44,6.6,6.84,7,7.16,7.3,7.44,7.56],
[0.29,4.06,5.06,5.22,5.42,5.6,5.88,6.06,6.22,6.34,6.5,6.78,7.02,7.14,7.28,7.4,7.52,7.62],
[0.24,3.81],[0.21,5.14,5.3,5.5,5.66,5.82,5.98,6.14,6.3,6.46,6.62,6.9,7.08,7.22,7.34,7.46,7.58],
[0.14,4.23,5.02,5.2,5.38,5.55,5.72,5.92,6.1,6.26,6.42,6.58,6.74,7.1,7.22,7.36,7.48,7.58],
[0.21,4.57],[0.12,4.42],[0.04,4.37,4.69,5.12,5.3,5.48,5.66,5.84,6.02,6.18,6.34,6.5,6.66,7,7.16,7.3,7.44,7.56],[-0.04,4.93,5.1,5.28,5.46,5.62,5.8,5.95,6.08,6.24,6.4,6.55,6.72,6.9,7.1,7.25,7.38,7.5],
[-0.09,4.5],[-0.13,5.2,5.38,5.54,5.72,5.88,6.02,6.16,6.32,6.48,6.64,6.84,7.02,7.18,7.32,7.46,7.58],[-0.19,4.8],[-0.2,3.77],[-0.22,3.94,5.12,5.3,5.44,5.58,5.75,5.88,6.02,6.18,6.34,6.5,6.62,6.82,7,7.15,7.28,7.42,7.54],
[-0.24,4.35],[-0.3,5.34,5.48,5.66,5.8,5.94,6.08,6.24,6.38,6.56,6.75,6.98,7.12,7.28,7.42,7.56],[-0.35,4.29],[-0.36,4.5],[-0.37,4.63],[-0.38,4.91,5.25,5.4,5.55,5.7,5.85,6,6.14,6.3,6.44,6.62,6.9,7.05,7.2,7.35,7.48,7.6],
[-0.43,4.78],[-0.45,4.33,5.1],[-0.47,5.32,5.48,5.64,5.8,5.94,6.1,6.26,6.42,6.58,6.74,6.98,7.14,7.3,7.44,7.56],[-0.56,4.61,5.28,5.44,5.6,5.76,5.9,6.05,6.2,6.35,6.5,6.66,6.82,6.96,7.1,7.25,7.4,7.55],
[-0.61,4.18],[-0.64,5.1,5.34,5.52,5.7,5.86,6.02,6.2,6.36,6.52,6.7,6.88,7.04,7.18,7.32,7.48],[-0.72,5.02,5.2,5.38,5.62,5.8,5.96,6.12,6.28,6.44,6.6,6.76,6.92,7.05,7.2,7.34,7.46],
[-0.79,4.16,3.99],[-0.81,4.92,5.12,5.28,5.5,5.7,5.88,6.04,6.2,6.36,6.54,6.7,6.86,7.12,7.26,7.4],[-0.9,3.76,3.87,4.82,5,5.16,5.35,5.55,5.72,5.9,6.08,6.26,6.45,6.62,6.8,7,7.18,7.32,7.42],
[-0.93,3.25],[-1,4.75,4.95,5.25,5.45,5.62,5.8,6,6.16,6.36,6.55,6.72,6.9,7.1,7.26,7.38],[-1.01,3.6,4.09,4.29],[-1.08,4.52,4.72,4.88,5.05,5.35,5.52,5.68,5.85,6.02,6.2,6.62,6.78,6.98,7.15,7.3],
[-1.18,3.93,4.39,4.65,4.82,5.12,5.28,5.45,5.62,5.78,5.95,6.12,6.3,6.48,6.7,6.88,7.06,7.22,7.38],[-1.21,3.2],[-1.25,4.16,4.28],[-1.26,4.58,4.75,4.9,5.18,5.35,5.55,5.72,5.9,6.1,6.38,6.55,6.9,7.05,7.2,7.35,7.44],
[-1.33,4.72,4.95,5.08,5.28,5.45,5.64,5.82,6,6.2,6.48,6.66,6.82,7,7.14,7.3],[-1.4,4,4.52,4.62,4.82,5.02,5.14,5.35,5.55,5.72,5.88,6.05,6.28,6.42,6.6,6.72,6.92,7.06,7.22,7.38],
[-1.5,4.55,4.72,4.9,5.08,5.24,5.42,5.6,5.78,5.96,6.14,6.32,6.5,6.64,6.82,7,7.16,7.32],[-1.6,4.1,4.25,4.42,4.6,4.78,4.95,5.12,5.32,5.5,5.68,5.85,6.02,6.22,6.38,6.55,6.72,6.9,7.08,7.25,7.38],
[-1.68,4.11,4.48,4.68,4.88,5.06,5.24,5.42,5.6,5.78,5.96,6.14,6.3,6.48,6.66,6.84,7,7.18,7.32],[-1.78,4.32,4.5,4.65,4.82,5,5.18,5.35,5.52,5.7,5.88,6.08,6.26,6.45,6.62,6.8,6.98,7.12,7.3],
[-1.87,3.16,4.42,4.72,4.92,5.1,5.28,5.46,5.64,5.82,6,6.2,6.38,6.55,6.72,6.9,7.06,7.22],[-1.9,4.12],[-1.96,4.28,4.45,4.72,4.9,5.08,5.28,5.45,5.62,5.82,6,6.18,6.36,6.58,6.72,6.92,7.1,7.25],
[-2.02,3.49,3],[-2.05,4.4,4.8,5,5.18,5.36,5.54,5.72,5.92,6.1,6.28,6.46,6.65,6.82,7,7.16,7.3],[-2.14,4.36,4.5,4.8,4.98,5.15,5.32,5.5,5.68,5.86,6.05,6.22,6.4,6.55,6.72,6.88,7.05,7.2,7.32],
[-2.17,3.59],[-2.23,4.5,4.7,4.88,5.06,5.24,5.42,5.6,5.78,5.96,6.14,6.32,6.5,6.68,6.85,7,7.14],[-2.24,4.22],[-2.25,3.74],[-2.3,4.11],[-2.32,4.42,4.58,4.78,4.92,5.1,5.28,5.46,5.64,5.82,6.02,6.35,6.62,6.78,6.95,7.1],
[-2.36,3.64],[-2.38,3.31],[-2.33,3.33],[-2.39,3.12],[-2.41,7.15,7.32,4.5,4.68,4.86,5.02,5.2,5.38,5.56,5.74,5.92,6.1,6.5,6.72,6.88,7.04],[-2.44,4.18],[-2.47,3.69],[-2.54,4.09],
[-2.5,4.42,4.58,4.75,4.98,5.15,5.32,5.5,5.7,5.88,6.05,6.22,6.4,6.6,6.8,6.95,7.02],[-2.6,4.5,4.7,4.9,5.08,5.26,5.44,5.62,5.8,6,6.2,6.4,6.6,6.76,6.92],
[-2.68,4.5,4.65,4.85,5.02,5.2,5.38,5.56,5.74,5.92,6.12,6.3,6.5,6.68,6.85,7],[-2.76,4.62,4.78,4.95,5.12,5.3,5.48,5.66,5.84,6.02,6.2,6.4,6.6,6.78,6.95,7.08],
[-2.71,3.57],[-2.72,3.71,3.96,4.26],[-2.77,4.05],[-2.85,3.75,4.32,4.45,4.62,4.78,4.95,5.12,5.28,5.45,5.62,5.8,6,6.18,6.38,6.58,6.76,6.92,7.05,7.15],
[-2.94,4.52,4.68,4.86,5.04,5.2,5.36,5.54,5.72,5.9,6.08,6.26,6.48,6.68,6.86,7,7.1],[-2.96,3.66],[-3.03,4.42,4.58,4.72,4.9,5.08,5.3,5.48,5.68,5.86,6.05,6.22,6.4,6.6,6.78,6.96,7.12,7.2],
[-3.05,4.11],[-3.13,4.28,4.42,4.6,4.76,4.94,5.2,5.38,5.54,5.7,5.86,6.02,6.18,6.34,6.5,6.66,6.82,6.98,7.12],[-3.22,2.43,4.18,4.32,4.5,4.68,4.85,5.02,5.3,5.46,5.62,5.78,5.94,6.1,6.26,6.42,6.58,6.74,6.9,7.06,7.16],
[-3.25,3.57],[-3.26,3.92,4],[-3.3,3.77,4.26,4.42,4.65,4.8,4.96,5.12,5.38,5.54,5.7,5.86,6.02,6.18,6.34,6.5,6.66,6.82,6.98,7.1],[-3.35,2.4],
[-3.38,4.2,4.35,4.58,4.72,4.88,5.05,5.2,5.36,5.52,5.68,5.84,6,6.16,6.32,6.48,6.64,6.8,6.96,7.08],[-3.46,4.38,4.55,4.72,4.86,5.04,5.2,5.28,5.44,5.6,5.76,5.92,6.08,6.24,6.4,6.56,6.72,6.88,7.02],
[-3.5,3.85],[-3.55,4,4.3,4.46,4.65,4.78,4.95,5.12,5.28,5.44,5.6,5.76,5.92,6.08,6.24,6.4,6.56,6.72,6.88,7],[-3.63,4.2,4.36,4.52,4.7,4.86,5.02,5.18,5.34,5.5,5.66,5.82,5.98,6.14,6.3,6.46,6.62,6.78,6.94],
[-3.6,3.54],[-3.71,4.28,4.42,4.58,4.72,4.88,5.04,5.2,5.36,5.52,5.68,5.84,6,6.16,6.32,6.48,6.64,6.8,6.96],[-3.79,4.16,4.34,4.5,4.66,4.82,5,5.16,5.32,5.48,5.64,5.8,5.96,6.12,6.28,6.44,6.6,6.76,6.92],
[-3.82,3.41],[-3.87,3.83,4.1,4.24,4.38,4.55,4.78,4.9,5.12,5.28,5.44,5.6,5.76,5.92,6.08,6.24,6.4,6.56,6.72,6.88,6.98],[-3.95,4.2,4.32,4.46,4.7,4.86,5.04,5.2,5.36,5.52,5.68,5.84,6,6.16,6.32,6.48,6.64,6.8,6.94],
[-3.9,3.68],[-4,2.63],[-4.03,4.12,4.26,4.42,4.62,4.78,4.95,5.1,5.26,5.42,5.58,5.74,5.9,6.06,6.22,6.38,6.54,6.7,6.86,6.92],[-4.1,4.44,4.6,4.74,4.9,5.06,5.22,5.38,5.54,5.7,5.86,6.02,6.18,6.34,6.5,6.66,6.8],
[-4.05,3.74],[-4.14,3.85],[-4.17,3.4],
[-4.18,4.36,4.5,4.66,4.82,4.98,5.14,5.3,5.46,5.62,5.78,5.94,6.1,6.26,6.42,6.58,6.74],[-4.19,6.85],[-4.26,4.76,4.92,5.08,5.26,5.44,5.64,5.8,5.96,6.12,6.28,6.44,6.6],
[-4.33,4.72,4.88,5.02,5.2,5.36,5.56,5.72,5.88,6.04,6.2,6.36,6.52],
[-4.44,2.6,4.78,4.86,5.02,5.36,5.44,5.76,5.88,6,6.12,6.22],[-4.5,2.69],[-4.6,2.99,3.21],[-4.64,2.8,4.02],[-4.65,3.08],[-4.68,3,4.66],[-4.69,4.12],
[-4.74,3.54],[-4.76,2.7,4.51],[-4.79,3.31],[-4.8,3.62],[-4.89,4.3],[-4.9,3.88],[-4.94,3.51],[-4.97,3.73],[-4.99,3.4],[-5.02,3.6,4.3],[-5.18,4.3]
];

const W=1800,H=1200,L=225.6,R=1620.6,T=144.4,B=1050;
const svg=d3.select("#c");
const x=d3.scaleLinear().domain([-7.295,8.302]).range([L,R]);
const y=d3.scaleLinear().domain([-6,8.17]).range([B,T]);
const toPoints=rows=>rows.flatMap(([yv,...xs])=>xs.map(xv=>({x:xv,y:yv})));
[[redRows,"#ff0000"],[brownRows,"#a52a2a"],[greenRows,"#2e8b57"]].forEach(([rows,col])=>{
  svg.append("g").selectAll("circle").data(toPoints(rows)).join("circle")
    .attr("cx",d=>x(d.x)).attr("cy",d=>y(d.y)).attr("r",6.6).attr("fill",col);
});
const fmt=d=>d<0?"\u2212"+Math.abs(d):String(d);
const gx=svg.append("g").attr("transform",`translate(0,${B})`)
  .call(d3.axisBottom(x).tickValues(xTicks).tickFormat(fmt).tickSize(14.6).tickPadding(14.6));
const gy=svg.append("g").attr("transform",`translate(${L},0)`)
  .call(d3.axisLeft(y).tickValues(yTicks).tickFormat(fmt).tickSize(14.6).tickPadding(14.6));
[gx,gy].forEach(g=>{
  g.select(".domain").remove();
  g.selectAll("line").attr("stroke","#000").attr("stroke-width",3.3);
  g.selectAll("text").attr("fill","#000").style("font-family","'DejaVu Sans'").style("font-size","41.67px");
});
svg.append("rect").attr("x",L).attr("y",T).attr("width",R-L).attr("height",B-T)
  .attr("fill","none").attr("stroke","#000").attr("stroke-width",3.3);
</script></body></html>
